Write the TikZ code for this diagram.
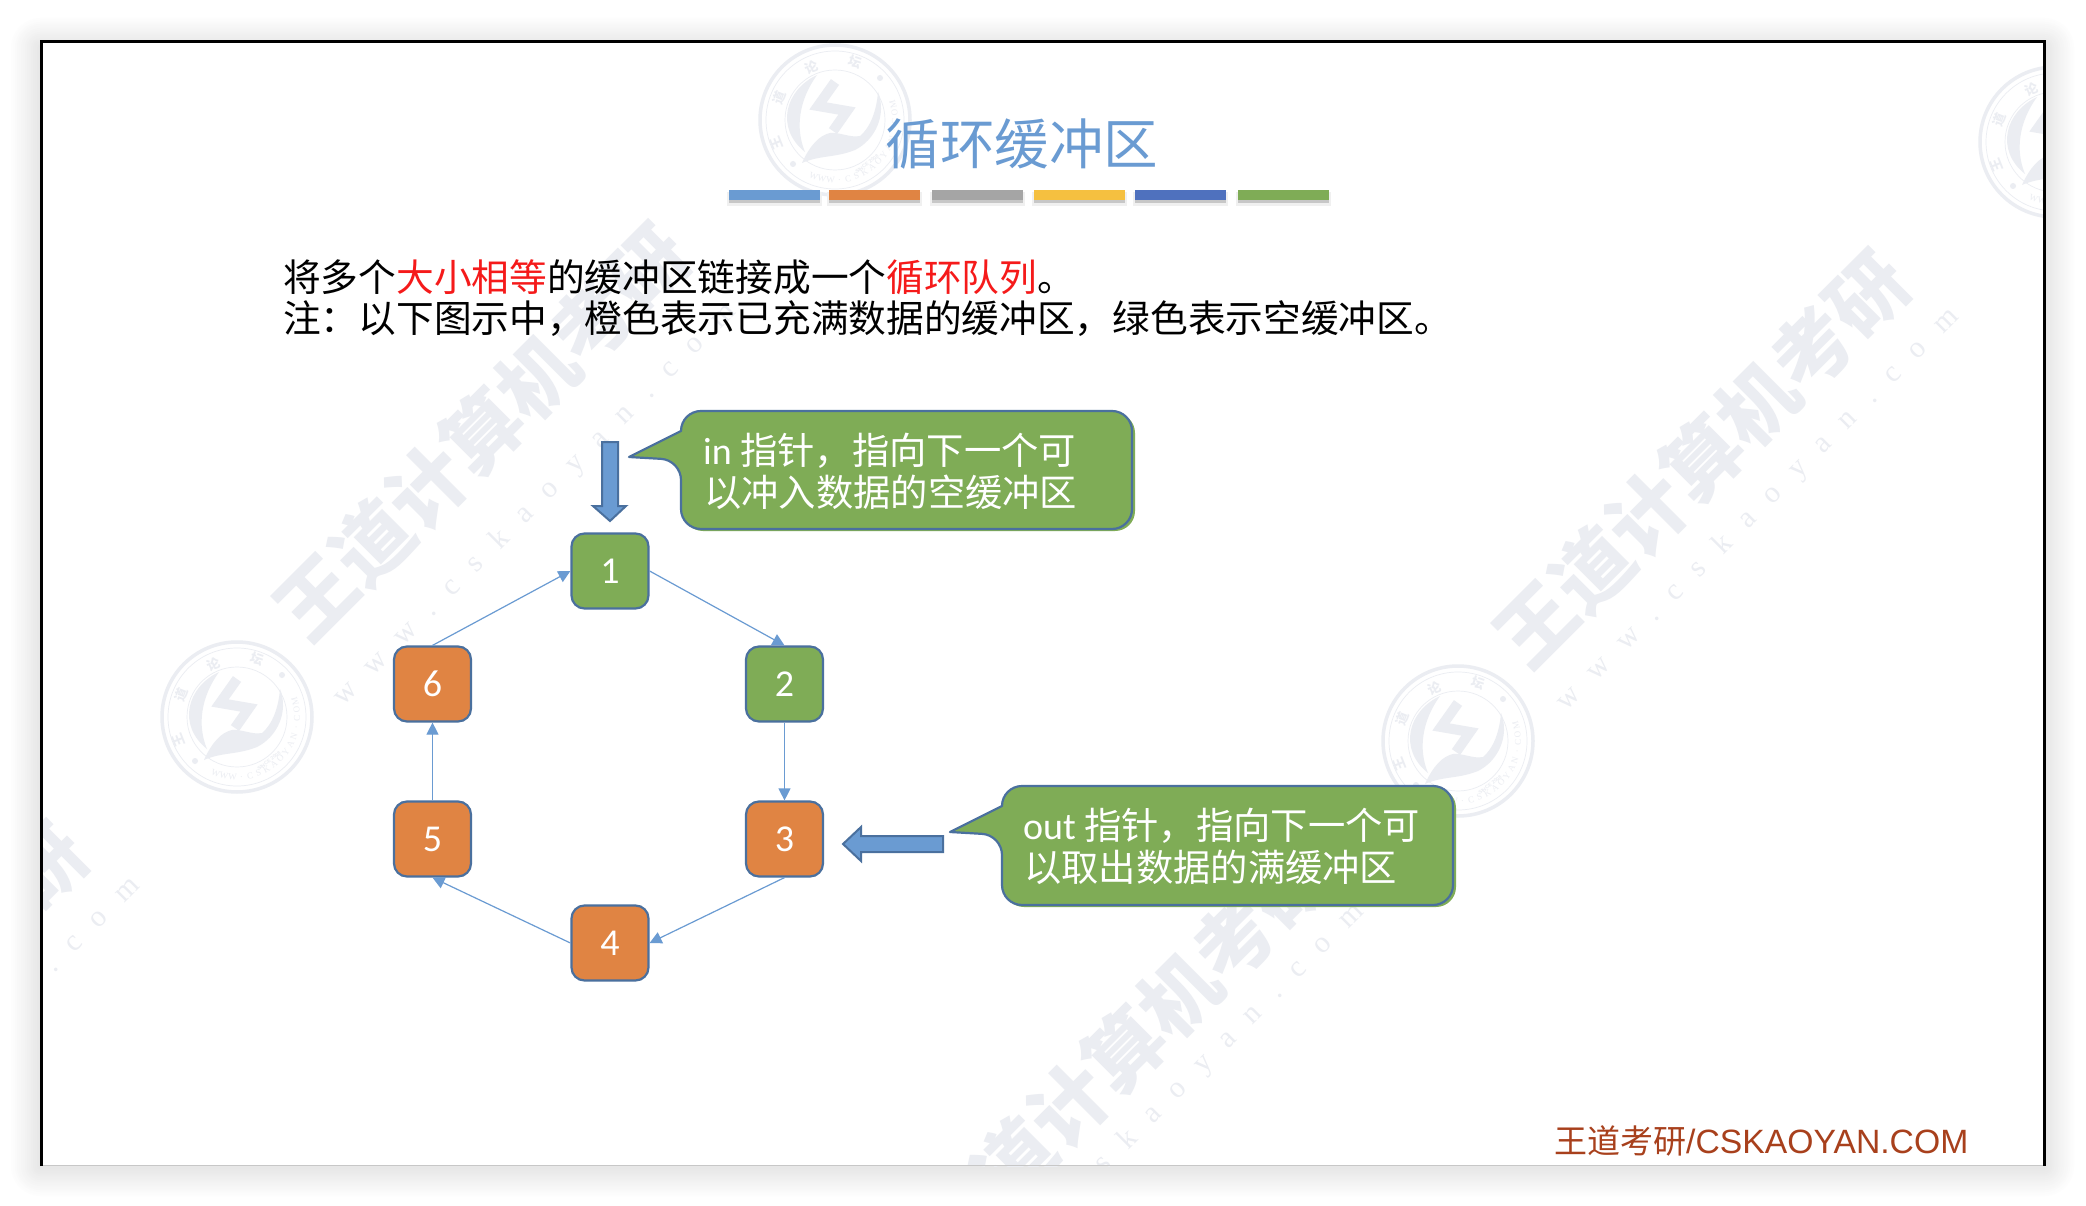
\documentclass[tikz,border=0pt]{standalone}
\usepackage{fontspec}
\usetikzlibrary{arrows.meta}
\setmainfont{Carlito}
\newfontfamily\cjk{Noto Sans CJK SC}
\newfontfamily\cjkwm{Noto Sans CJK SC}
\newfontfamily\wmlat[LetterSpace=70]{Liberation Serif}
\newfontfamily\footlat{Liberation Sans}
\newfontfamily\logoser{Liberation Serif}
\newcommand{\sz}[1]{\fontsize{#1}{#1}\selectfont}
\definecolor{wmc}{HTML}{EBEDF2}
\definecolor{wml}{HTML}{EBEDF2}
\definecolor{bluef}{HTML}{6A9BD2}
\definecolor{blued}{HTML}{4A709E}
\definecolor{greenf}{HTML}{7FAC56}
\definecolor{orangef}{HTML}{E08443}
\definecolor{redt}{HTML}{F51A1A}
\definecolor{footc}{HTML}{A8401C}
\tikzset{
  x=1pt,y=-1pt,
  cell/.style={rounded corners=13pt,draw=blued,line width=2.2pt,minimum width=77pt,minimum height=75pt,inner sep=0pt,text=white,font=\sz{38}},
  greencell/.style={cell,fill=greenf},
  orangecell/.style={cell,fill=orangef},
  link/.style={draw=bluef,line width=1.2pt,-{Triangle[length=12pt,width=12pt]}},
  bubble/.style={fill=greenf,draw=blued,line width=2.2pt,line join=round},
  bubbleedge/.style={fill=greenf,rounded corners=20pt},
  bubbletext/.style={anchor=west,text=white,inner sep=0pt,font=\sz{37.3}\cjk},
  blockarrow/.style={fill=bluef,draw=blued,line width=2pt,line join=miter},
  bodyline/.style={anchor=west,inner sep=0pt,font=\sz{37.7}\cjk},
  bigwm/.style={text=wmc,inner sep=0pt,rotate=45,font=\sz{78}\cjkwm\bfseries},
  smallwm/.style={text=wmc,inner sep=0pt,rotate=45,font=\sz{30}\wmlat},
  wdlogo/.pic={
    \draw[wml,line width=3.5pt] (0,0) circle (75);
    \draw[wml,line width=.7pt] (0,0) circle (69);
    \draw[wml,line width=.7pt] (0,0) circle (50);
    \fill[wml] (-18,-45) .. controls (-50,-30) and (-60,8) .. (-30,32) .. controls (-40,8) and (-36,-20) .. (-18,-45);
    \fill[wml] (-33,43) .. controls (-25,25) and (-15,15) .. (-5,13) .. controls (5,12) and (15,18) .. (25,16) .. controls (38,5) and (42,-15) .. (43,-28) .. controls (52,-5) and (40,20) .. (20,30) .. controls (0,38) and (-15,35) .. (-33,43);
    \draw[wml,line width=10pt] (0,-38) -- (-17,-14) -- (12,-9) -- (-2,11);
    \fill[wml] (45,-42) circle (3);
    \fill[wml] (-42,44) circle (3);
    \node[text=wml,inner sep=0pt,rotate=111.6,font=\sz{13}\cjk\bfseries] at (-58,23) {王};
    \node[text=wml,inner sep=0pt,rotate=68.6,font=\sz{13}\cjk\bfseries] at (-56,-22) {道};
    \node[text=wml,inner sep=0pt,rotate=23,font=\sz{13}\cjk\bfseries] at (-23,-53) {论};
    \node[text=wml,inner sep=0pt,rotate=-19,font=\sz{13}\cjk\bfseries] at (20,-58) {坛};
    \foreach \ch [count=\n] in {W,W,W,.,C,S,K,A,O,Y,A,N,.,C,O,M}{
      \pgfmathsetmacro\ang{249+8.4*(\n-1)}
      \node[text=wml,inner sep=0pt,rotate=\ang+90,font=\sz{9}\logoser] at ({60*cos(\ang)},{-60*sin(\ang)}) {\ch};
    }
    \node[text=wml,inner sep=0pt,rotate=38,font=\sz{5}\footlat\bfseries] at (32,44) {SINCE 2008};
  }
}
\begin{document}
\begin{tikzpicture}
\useasboundingbox (0,0) rectangle (2086,1206);
\fill[white] (0,0) rectangle (2086,1206);
% soft page shadow
\foreach \i in {32,30,...,0}{
  \pgfmathsetmacro\pct{(32-\i)*0.32}
  \fill[black!\pct,rounded corners=\i] ({41-\i},{48-\i}) rectangle ({2044+\i},{1166+\i});
}
% page
\fill[white] (41,41) rectangle (2044,1166);
\begin{scope}
  \clip (41,41) rectangle (2044,1166);
  \pic at (237,717) {wdlogo};
  \pic at (835,120) {wdlogo};
  \pic at (1458,741) {wdlogo};
  \pic at (2055,142) {wdlogo};
  \node[bigwm] (wm1) at (482,432) {王道计算机考研};
  \node[bigwm] (wm2) at (1702,459) {王道计算机考研};
  \node[bigwm] (wm3) at (1124,1050) {王道计算机考研};
  \node[bigwm] (wm4) at (-120,1031) {王道计算机考研};
  \node[smallwm] (wu1) at (535,505) {www.cskaoyan.com};
  \node[smallwm] (wu2) at (1758,510) {www.cskaoyan.com};
  \node[smallwm] (wu3) at (1163,1105) {www.cskaoyan.com};
  \node[smallwm] (wu4) at (-61,1079) {www.cskaoyan.com};
\end{scope}
\draw[black!22,line width=1.2pt] (41,1165.5) -- (2044,1165.5);
\draw[black,line width=3pt] (41,1166) -- (41,41.5) -- (2044,41.5) -- (2044,1166);
% title
\node[text=bluef,inner sep=0pt,font=\sz{54.5}\cjk] (title) at (1022,144) {循环缓冲区};
% bars
\foreach \xa/\xb/\c in {729/820/6A9BD2,829/920/E08443,932/1023/A5A5A5,1034/1125/F5C040,1135/1226/4F71BE,1238/1329/7FAC56}{
  \fill[black!6] (\xa-2,192) rectangle (\xb+2,206);
  \fill[black!22] (\xa,196) rectangle (\xb,203);
  \definecolor{barc}{HTML}{\c}
  \fill[barc] (\xa,190) rectangle (\xb,200);
}
% body text
\node[bodyline] (l1) at (283,277) {将多个{\color{redt}大小相等}的缓冲区链接成一个{\color{redt}循环队列}。};
\node[bodyline] (l2) at (283,319) {注：以下图示中，橙色表示已充满数据的缓冲区，绿色表示空缓冲区。};
% cells
\node[greencell] (n1) at (610,571) {1};
\node[greencell] (n2) at (784.5,684) {2};
\node[orangecell] (n3) at (784.5,839) {3};
\node[orangecell] (n4) at (610,943) {4};
\node[orangecell] (n5) at (432.5,839) {5};
\node[orangecell] (n6) at (432.5,684) {6};
\draw[link] (n1.east) -- (n2.north);
\draw[link] (n2.south) -- (n3.north);
\draw[link] (n3.south) -- (n4.east);
\draw[link] (n4.west) -- (n5.south);
\draw[link] (n5.north) -- (n6.south);
\draw[link] (n6.north) -- (n1.west);
% pointer arrows
\draw[blockarrow] (602,442) -- (618,442) -- (618,506) -- (626,506) -- (610,521) -- (593,506) -- (602,506) -- cycle;
\draw[blockarrow] (943,836) -- (861,836) -- (861,827) -- (843,844) -- (861,861) -- (861,852) -- (943,852) -- cycle;
% callouts
\fill[bubbleedge] (683,413) rectangle (1135,531);
\draw[bubble] (681,431) [rounded corners=20pt] -- (681,411) -- (1132,411) -- (1132,529) -- (681,529) -- (681,460) [sharp corners] -- (629,457) -- cycle;
\node[bubbletext] (t1a) at (703,451) {{\rmfamily\sz{38}in} 指针，指向下一个可};
\node[bubbletext] (t1b) at (704,492) {以冲入数据的空缓冲区};
\fill[bubbleedge] (1004,788) rectangle (1456,907);
\draw[bubble] (1002,806) [rounded corners=20pt] -- (1002,786) -- (1453,786) -- (1453,905) -- (1002,905) -- (1002,835) [sharp corners] -- (950,832) -- cycle;
\node[bubbletext] (t2a) at (1023,826) {{\rmfamily\sz{38}out} 指针，指向下一个可};
\node[bubbletext] (t2b) at (1024,867) {以取出数据的满缓冲区};
% footer
\node[anchor=west,inner sep=0pt,text=footc,font=\sz{33.7}\footlat] (foot) at (1554,1141) {{\cjk\sz{33}王道考研}/CSKAOYAN.COM};
\end{tikzpicture}
\end{document}
